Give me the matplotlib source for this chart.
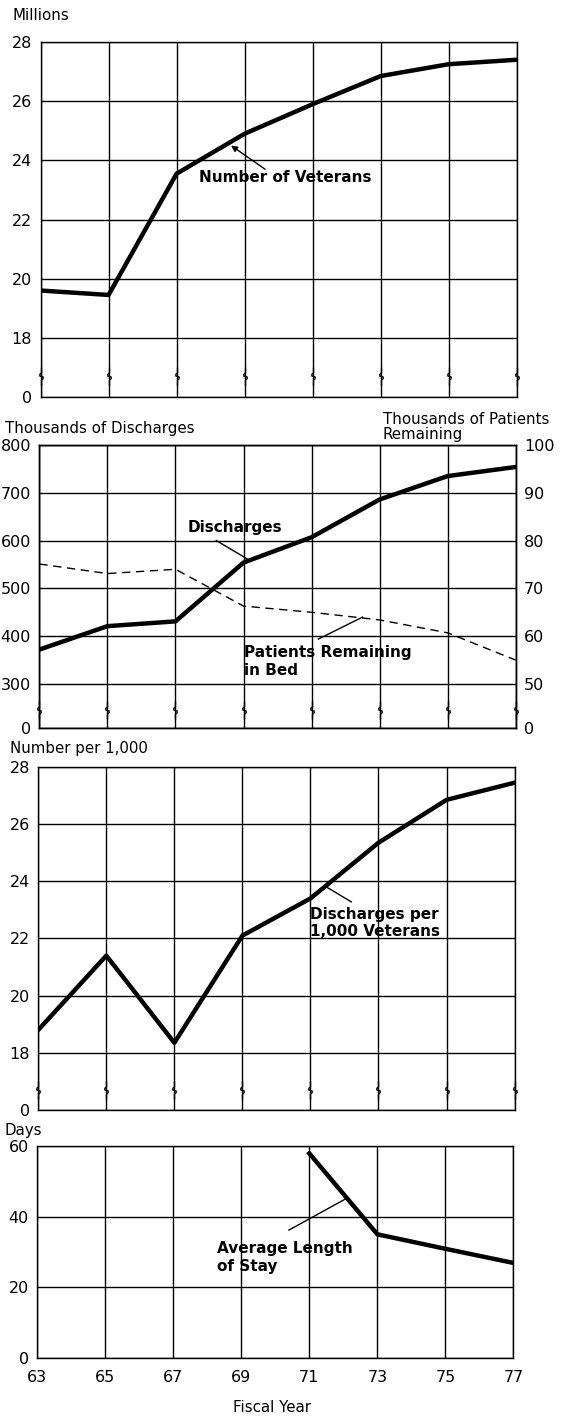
import matplotlib
matplotlib.use('Agg')
import matplotlib.pyplot as plt

plt.rcParams['font.family'] = ['DejaVu Sans']

# data
years = [63, 65, 67, 69, 71, 73, 75, 77]
veterans = [19.6, 19.45, 23.55, 24.9, 25.9, 26.85, 27.25, 27.4]          # millions
discharges = [372, 421, 431, 554, 607, 686, 735, 754]                   # thousands
patients_remaining = [75.1, 73.1, 74.0, 66.3, 65.0, 63.4, 60.7, 55.0]   # thousands
per_1000 = [18.8, 21.4, 18.35, 22.1, 23.4, 25.35, 26.85, 27.45]
stay_years = [71, 73, 75, 77]
avg_stay = [57.9, 35.0, 30.9, 26.9]                                     # days

vet_ticks = [18, 20, 22, 24, 26, 28]
dis_ticks = [300, 400, 500, 600, 700, 800]
pat_ticks = [50, 60, 70, 80, 90, 100]
rate_ticks = [18, 20, 22, 24, 26, 28]
day_ticks = [0, 20, 40, 60]

LW = 3.2
TICK_FS = 11.5
LAB_FS = 10.8
ANN_FS = 11

fig = plt.figure(figsize=(5.63, 14.19), dpi=100)
fig.patch.set_facecolor('white')

left, width = 0.068, 0.846
ax1 = fig.add_axes([left + 0.004, 0.7202, width, 0.2502])
ax2 = fig.add_axes([left + 0.002, 0.4870, width, 0.1994])
ax3 = fig.add_axes([left, 0.2178, width, 0.2417])
ax4 = fig.add_axes([left - 0.002, 0.0430, width, 0.1494])


def style(ax, bottom, ticks, labels):
    ax.set_xlim(years[0], years[-1])
    ax.set_xticks(years)
    ax.set_ylim(bottom, ticks[-1])
    ax.set_yticks([bottom] + ticks if bottom != ticks[0] else ticks)
    ax.set_yticklabels(labels)
    ax.grid(True, color='k', lw=1.0)
    ax.tick_params(length=0, labelsize=TICK_FS, pad=6)
    for s in ax.spines.values():
        s.set_linewidth(1.0)
    ax.set_axisbelow(True)


def draw_breaks(ax, y):
    # scale-break squiggles on each vertical grid line
    squiggle = [(0, -1), (0, -0.4), (0.18, -0.25), (0.18, -0.05),
                (-0.18, 0.05), (-0.18, 0.25), (0, 0.4), (0, 1)]
    ax.plot(years, [y] * len(years), ls='none', marker=squiggle, ms=13,
            mew=1.0, mfc='none', color='k', clip_on=False, zorder=4)


# panel 1: number of veterans
style(ax1, 16, vet_ticks, ['0'] + [str(t) for t in vet_ticks])
ax1.set_xticklabels([])
ax1.plot(years, veterans, color='k', lw=LW, zorder=5)
draw_breaks(ax1, 16.7)
ax1.text(67.65, 23.42, 'Number of Veterans', fontsize=ANN_FS, fontweight='bold',
         va='center', ha='left', zorder=6)
ax1.annotate('', xy=(68.6, 24.5), xytext=(69.6, 23.7),
             arrowprops=dict(arrowstyle='-|>', color='k', lw=1.0,
                             shrinkA=0, shrinkB=0, mutation_scale=9))
fig.text(12 / 563, 1 - 16 / 1419, 'Millions', fontsize=LAB_FS, va='center')

# panel 2: discharges and patients remaining
style(ax2, 208, dis_ticks, ['0'] + [str(t) for t in dis_ticks])
ax2.set_xticklabels([])
ax2.plot(years, discharges, color='k', lw=LW, zorder=5)
draw_breaks(ax2, 245)
ax2r = ax2.twinx()
pat_bottom = 50 + (208 - 300) / 10
ax2r.set_ylim(pat_bottom, 100)
ax2r.set_yticks([pat_bottom] + pat_ticks)
ax2r.set_yticklabels(['0'] + [str(t) for t in pat_ticks])
ax2r.tick_params(length=0, labelsize=TICK_FS, pad=6)
for s in ax2r.spines.values():
    s.set_linewidth(1.0)
ax2r.plot(years, patients_remaining, color='k', lw=1.0, ls=(0, (6, 4)))
ax2.text(67.35, 628, 'Discharges', fontsize=ANN_FS, fontweight='bold',
         va='center', ha='left', zorder=6)
ax2.plot([68.2, 69.1], [600, 562], color='k', lw=1.0)
ax2.text(69.0, 348, 'Patients Remaining\nin Bed', fontsize=ANN_FS,
         fontweight='bold', va='center', ha='left', linespacing=1.25, zorder=6)
ax2.plot([71.2, 72.5], [394, 440], color='k', lw=1.0)
fig.text(5 / 563, 1 - 428 / 1419, 'Thousands of Discharges', fontsize=LAB_FS,
         va='center')
fig.text(383 / 563, 1 - 427 / 1419, 'Thousands of Patients\nRemaining',
         fontsize=LAB_FS, va='center', linespacing=0.95)

# panel 3: discharges per 1,000 veterans
style(ax3, 16, rate_ticks, ['0'] + [str(t) for t in rate_ticks])
ax3.set_xticklabels([])
ax3.plot(years, per_1000, color='k', lw=LW, zorder=5)
draw_breaks(ax3, 16.7)
ax3.text(71.0, 22.55, 'Discharges per\n1,000 Veterans', fontsize=ANN_FS,
         fontweight='bold', va='center', ha='left', linespacing=1.2, zorder=6)
ax3.plot([72.2, 71.43], [23.28, 23.83], color='k', lw=1.0)
fig.text(10 / 563, 1 - 748 / 1419, 'Number per 1,000', fontsize=LAB_FS,
         va='center')

# panel 4: average length of stay
style(ax4, 0, day_ticks, [str(t) for t in day_ticks])
ax4.set_xticklabels([str(y) for y in years])
ax4.tick_params(axis='x', pad=9)
ax4.plot(stay_years, avg_stay, color='k', lw=LW, zorder=5)
ax4.text(68.3, 28.4, 'Average Length\nof Stay', fontsize=ANN_FS,
         fontweight='bold', va='center', ha='left', linespacing=1.2, zorder=6)
ax4.plot([70.4, 72.1], [36.2, 45.2], color='k', lw=1.0)
fig.text(5 / 563, 1 - 1131 / 1419, 'Days', fontsize=LAB_FS, va='center')
fig.text(272 / 563, 1 - 1407 / 1419, 'Fiscal Year', fontsize=LAB_FS,
         va='center', ha='center')

fig.savefig('out.png', dpi=100, facecolor='white')
